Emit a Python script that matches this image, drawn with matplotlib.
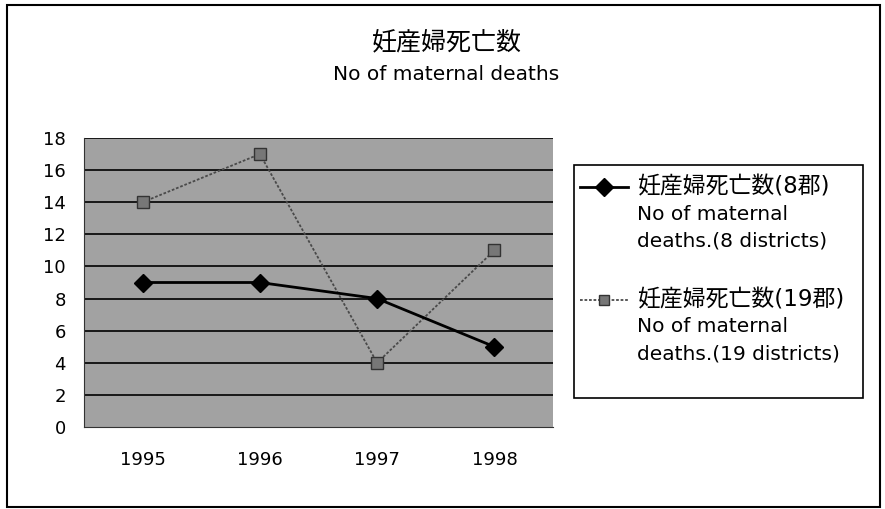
import matplotlib.pyplot as plt
from matplotlib.lines import Line2D
from matplotlib.patches import Rectangle

plt.rcParams['font.family'] = ['DejaVu Sans', 'Noto Sans CJK JP']

# data
years = ['1995', '1996', '1997', '1998']
deaths_8 = [9, 9, 8, 5]
deaths_19 = [14, 17, 4, 11]
yticks = list(range(0, 19, 2))

title_jp = '妊産婦死亡数'
title_en = 'No of maternal deaths'
label_8 = ['妊産婦死亡数(8郡)', 'No of maternal', 'deaths.(8 districts)']
label_19 = ['妊産婦死亡数(19郡)', 'No of maternal', 'deaths.(19 districts)']

W, H = 885, 509
fig = plt.figure(figsize=(W / 100, H / 100), dpi=100)

def fx(px):
    return px / W

def fy(py):
    return 1 - py / H

# outer frame
fig.patches.append(Rectangle((fx(7), fy(507)), fx(873), 502 / H,
                             transform=fig.transFigure, fill=False,
                             edgecolor='black', lw=1.5))

ax = fig.add_axes([fx(84), fy(427), fx(553 - 84), (427 - 138) / H])
ax.set_facecolor('#a2a2a2')
x = list(range(len(years)))
ax.set_xlim(-0.5, len(years) - 0.5)
ax.set_ylim(0, 18)
ax.set_yticks(yticks)
ax.set_xticks(x)
ax.set_xticklabels(years)
ax.tick_params(axis='y', labelsize=13, length=0, pad=13)
ax.tick_params(axis='x', labelsize=13, length=0, pad=17)
for yv in yticks[1:]:
    ax.axhline(yv, color='black', lw=1.2, zorder=1)
for s in ['top', 'right']:
    ax.spines[s].set_visible(False)
for s in ['left', 'bottom']:
    ax.spines[s].set_color('#333333')

ax.plot(x, deaths_19, color='#4a4a4a', lw=1.3, ls=(0, (1.5, 1)),
        marker='s', ms=8, mfc='#777777', mec='#333333', zorder=3)
ax.plot(x, deaths_8, color='black', lw=2, marker='D', ms=9,
        mfc='black', mec='black', zorder=4)

# titles
fig.text(fx(447), fy(42), title_jp, ha='center', va='center', fontsize=18)
fig.text(fx(446), fy(75), title_en, ha='center', va='center', fontsize=14.5)

# legend drawn by hand
fig.patches.append(Rectangle((fx(574), fy(398)), fx(863 - 574), (398 - 165) / H,
                             transform=fig.transFigure, fill=False,
                             edgecolor='black', lw=1.2))
line_gap = 27
for y0, lab, style in [(187, label_8, 'a'), (300, label_19, 'b')]:
    if style == 'a':
        fig.lines.append(Line2D([fx(580), fx(628)], [fy(y0), fy(y0)],
                                transform=fig.transFigure, color='black', lw=2))
        fig.lines.append(Line2D([fx(604)], [fy(y0)], transform=fig.transFigure,
                                marker='D', ms=9, color='black'))
    else:
        fig.lines.append(Line2D([fx(580), fx(628)], [fy(y0), fy(y0)],
                                transform=fig.transFigure, color='#4a4a4a',
                                lw=1.3, ls=(0, (1.5, 1))))
        fig.lines.append(Line2D([fx(604)], [fy(y0)], transform=fig.transFigure,
                                marker='s', ms=7, mfc='#777777', mec='#333333'))
    for k, t in enumerate(lab):
        fig.text(fx(637), fy(y0 + k * line_gap), t, ha='left', va='center',
                 fontsize=16.5 if k == 0 else 14.5)

fig.savefig('out.png', dpi=100)
